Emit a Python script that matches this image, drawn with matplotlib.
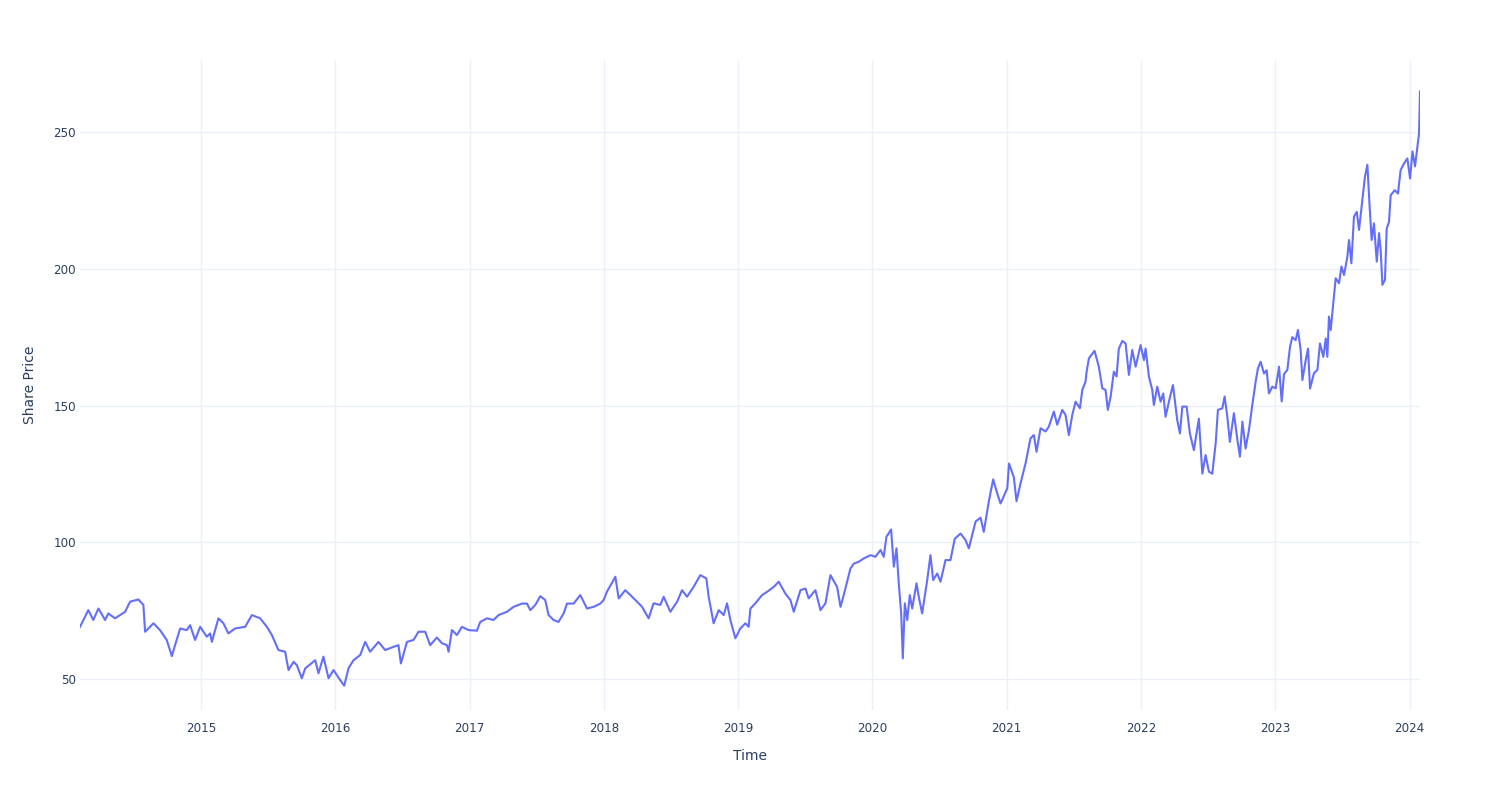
import matplotlib.pyplot as plt

# share price, time in decimal years
years = [
    2014.098, 2014.160, 2014.197, 2014.235, 2014.285, 2014.309, 2014.359, 2014.434,
    2014.471, 2014.533, 2014.570, 2014.583, 2014.645, 2014.694, 2014.744, 2014.782,
    2014.806, 2014.844, 2014.893, 2014.918, 2014.955, 2014.993, 2015.042, 2015.067,
    2015.080, 2015.129, 2015.166, 2015.203, 2015.253, 2015.328, 2015.378, 2015.440,
    2015.490, 2015.527, 2015.576, 2015.626, 2015.651, 2015.688, 2015.713, 2015.750,
    2015.775, 2015.850, 2015.874, 2015.911, 2015.949, 2015.986, 2016.036, 2016.066,
    2016.098, 2016.135, 2016.185, 2016.222, 2016.259, 2016.321, 2016.371, 2016.433,
    2016.470, 2016.488, 2016.533, 2016.582, 2016.619, 2016.669, 2016.706, 2016.756,
    2016.794, 2016.831, 2016.843, 2016.868, 2016.905, 2016.943, 2016.992, 2017.054,
    2017.079, 2017.129, 2017.178, 2017.215, 2017.278, 2017.327, 2017.390, 2017.427,
    2017.452, 2017.489, 2017.526, 2017.563, 2017.588, 2017.625, 2017.662, 2017.700,
    2017.725, 2017.774, 2017.824, 2017.874, 2017.923, 2017.973, 2017.998, 2018.023,
    2018.072, 2018.085, 2018.110, 2018.159, 2018.209, 2018.247, 2018.284, 2018.333,
    2018.370, 2018.420, 2018.445, 2018.495, 2018.545, 2018.582, 2018.619, 2018.668,
    2018.718, 2018.763, 2018.780, 2018.817, 2018.855, 2018.892, 2018.917, 2018.942,
    2018.979, 2019.016, 2019.054, 2019.078, 2019.091, 2019.128, 2019.178, 2019.215,
    2019.265, 2019.302, 2019.352, 2019.389, 2019.414, 2019.464, 2019.501, 2019.525,
    2019.575, 2019.613, 2019.650, 2019.687, 2019.737, 2019.762, 2019.786, 2019.836,
    2019.861, 2019.898, 2019.935, 2019.985, 2020.022, 2020.060, 2020.084, 2020.104,
    2020.139, 2020.159, 2020.179, 2020.196, 2020.214, 2020.226, 2020.241, 2020.259,
    2020.278, 2020.296, 2020.328, 2020.345, 2020.370, 2020.408, 2020.432, 2020.452,
    2020.482, 2020.507, 2020.544, 2020.581, 2020.613, 2020.656, 2020.693, 2020.718,
    2020.768, 2020.805, 2020.829, 2020.867, 2020.899, 2020.929, 2020.954, 2021.004,
    2021.017, 2021.053, 2021.073, 2021.103, 2021.140, 2021.177, 2021.202, 2021.222,
    2021.252, 2021.289, 2021.314, 2021.351, 2021.376, 2021.414, 2021.438, 2021.463,
    2021.488, 2021.513, 2021.545, 2021.563, 2021.587, 2021.595, 2021.612, 2021.654,
    2021.686, 2021.712, 2021.736, 2021.753, 2021.774, 2021.798, 2021.818, 2021.835,
    2021.861, 2021.885, 2021.910, 2021.935, 2021.960, 2021.997, 2022.022, 2022.034,
    2022.059, 2022.084, 2022.096, 2022.121, 2022.146, 2022.166, 2022.183, 2022.208,
    2022.238, 2022.270, 2022.290, 2022.308, 2022.340, 2022.364, 2022.394, 2022.431,
    2022.457, 2022.481, 2022.506, 2022.531, 2022.556, 2022.573, 2022.606, 2022.623,
    2022.643, 2022.662, 2022.692, 2022.718, 2022.737, 2022.755, 2022.779, 2022.804,
    2022.829, 2022.854, 2022.871, 2022.891, 2022.916, 2022.936, 2022.953, 2022.978,
    2023.003, 2023.028, 2023.048, 2023.065, 2023.090, 2023.110, 2023.127, 2023.152,
    2023.169, 2023.189, 2023.202, 2023.227, 2023.244, 2023.259, 2023.288, 2023.314,
    2023.333, 2023.358, 2023.376, 2023.388, 2023.400, 2023.413, 2023.433, 2023.450,
    2023.475, 2023.493, 2023.512, 2023.537, 2023.549, 2023.567, 2023.586, 2023.607,
    2023.624, 2023.649, 2023.668, 2023.686, 2023.703, 2023.718, 2023.735, 2023.756,
    2023.773, 2023.785, 2023.798, 2023.817, 2023.830, 2023.847, 2023.860, 2023.890,
    2023.914, 2023.934, 2023.959, 2023.984, 2024.004, 2024.022, 2024.041, 2024.059,
    2024.071, 2024.078,
]
price = [
    69.1, 75.2, 71.6, 75.8, 71.6, 74.0, 72.2, 74.6,
    78.3, 79.1, 77.1, 67.3, 70.4, 67.9, 64.3, 58.4,
    62.4, 68.5, 67.9, 69.7, 64.3, 69.1, 65.5, 66.7,
    63.6, 72.2, 70.4, 66.7, 68.5, 69.1, 73.4, 72.2,
    69.1, 66.1, 60.6, 60.0, 53.3, 56.3, 55.1, 50.3,
    53.9, 56.9, 52.1, 58.2, 50.3, 53.3, 49.6, 47.6,
    54.0, 56.9, 58.8, 63.6, 60.0, 63.6, 60.6, 61.8,
    62.4, 55.7, 63.6, 64.3, 67.3, 67.3, 62.4, 65.2,
    63.1, 62.4, 60.0, 67.9, 66.1, 69.1, 67.9, 67.7,
    70.9, 72.2, 71.6, 73.4, 74.6, 76.4, 77.6, 77.6,
    75.2, 77.1, 80.3, 78.9, 73.4, 71.6, 70.9, 74.0,
    77.6, 77.6, 80.7, 75.8, 76.4, 77.6, 78.9, 82.0,
    86.2, 87.4, 79.5, 82.5, 80.1, 78.3, 76.4, 72.2,
    77.7, 77.1, 80.1, 74.6, 78.3, 82.5, 80.1, 83.7,
    88.0, 86.8, 80.1, 70.4, 75.2, 73.4, 77.7, 71.6,
    64.9, 68.5, 70.4, 69.1, 75.8, 77.7, 80.7, 81.9,
    83.7, 85.6, 81.2, 78.9, 74.6, 82.5, 83.1, 79.5,
    82.5, 75.2, 77.7, 88.0, 83.7, 76.4, 80.7, 90.4,
    92.2, 92.9, 94.1, 95.3, 94.7, 97.2, 94.7, 102.0,
    104.7, 91.1, 97.8, 85.0, 74.0, 57.6, 77.7, 71.6,
    80.7, 75.8, 85.0, 80.1, 74.0, 86.2, 95.3, 86.2,
    88.6, 85.6, 93.5, 93.5, 101.3, 103.2, 100.8, 97.8,
    107.6, 109.0, 103.8, 115.0, 123.0, 117.9, 114.2, 119.7,
    128.8, 123.8, 115.0, 121.6, 128.8, 138.0, 139.2, 133.1,
    141.7, 140.5, 142.3, 147.8, 143.0, 148.4, 146.5, 139.2,
    146.5, 151.4, 149.0, 155.7, 158.7, 162.4, 167.2, 170.0,
    164.2, 156.3, 155.7, 148.4, 153.3, 162.4, 160.6, 170.8,
    173.6, 172.7, 161.2, 170.3, 164.2, 172.1, 166.6, 170.8,
    160.6, 155.7, 150.2, 156.9, 151.4, 154.4, 145.9, 151.4,
    157.5, 144.7, 139.8, 149.6, 149.6, 139.8, 133.7, 145.2,
    125.1, 131.9, 125.8, 125.1, 136.1, 148.4, 149.0, 153.3,
    145.9, 136.7, 147.2, 137.4, 131.3, 144.1, 134.3, 141.0,
    150.2, 158.7, 163.6, 166.0, 161.7, 162.9, 154.4, 156.9,
    156.3, 164.2, 151.5, 161.5, 163.0, 171.5, 175.0, 173.9,
    177.6, 170.3, 159.3, 166.6, 170.8, 156.2, 161.8, 163.0,
    172.7, 167.8, 174.5, 167.8, 182.5, 177.6, 188.0, 196.5,
    194.7, 200.8, 197.7, 204.4, 210.5, 202.0, 219.0, 220.8,
    214.2, 225.2, 233.7, 238.0, 222.6, 210.5, 216.6, 202.6,
    213.0, 206.9, 194.1, 195.9, 214.7, 217.1, 226.9, 228.7,
    227.5, 236.1, 238.5, 240.3, 233.0, 242.9, 237.4, 244.7,
    249.6, 264.8,
]
year_ticks = list(range(2015, 2025))
price_ticks = [50, 100, 150, 200, 250]

plt.rcParams['font.family'] = ['DejaVu Sans']
text_color = '#2a3f5f'
grid_color = '#ebf0f8'

fig = plt.figure(figsize=(15, 8), dpi=100)
ax = fig.add_axes([80 / 1500, 90 / 800, 1340 / 1500, 650 / 800])

ax.plot(years, price, color='#636efa', linewidth=1.5, zorder=3)

ax.set_xlim(years[0], years[-1])
ax.set_ylim(38.7, 276.3)
ax.set_xticks(year_ticks)
ax.set_xticklabels([str(y) for y in year_ticks])
ax.set_yticks(price_ticks)

ax.grid(True, color=grid_color, linewidth=1)
ax.set_axisbelow(True)
for s in ax.spines.values():
    s.set_visible(False)
ax.tick_params(length=0, labelsize=8.6, labelcolor=text_color)
ax.tick_params(axis='x', pad=9)
ax.tick_params(axis='y', pad=3)

ax.set_xlabel('Time', fontsize=10, color=text_color, labelpad=10)
ax.set_ylabel('Share Price', fontsize=10, color=text_color, labelpad=12)

fig.savefig('out.png', dpi=100, facecolor='white')
